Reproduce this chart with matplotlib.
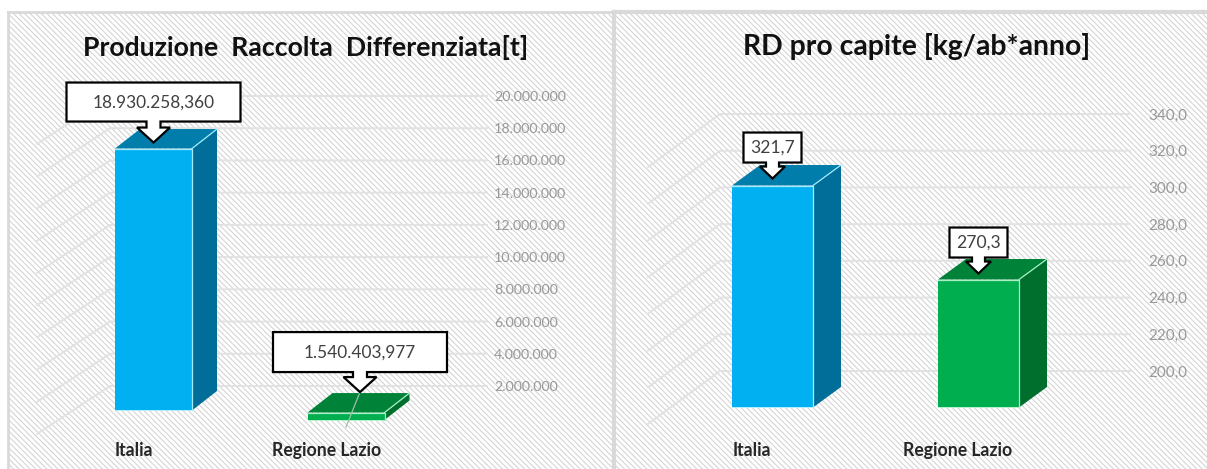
import matplotlib
matplotlib.use("Agg")
import matplotlib.pyplot as plt
from matplotlib.patches import Polygon
from matplotlib.transforms import Affine2D
from matplotlib.ticker import FuncFormatter

plt.rcParams['font.family'] = ['Lato', 'DejaVu Sans']
plt.rcParams['hatch.linewidth'] = 0.75

# data
categories = ["Italia", "Regione Lazio"]
prod_title = "Produzione  Raccolta  Differenziata[t]"
prod_ticks = [2000000, 4000000, 6000000, 8000000, 10000000, 12000000, 14000000, 16000000, 18000000, 20000000]
prod_tops = [17950000, 1560000]
prod_bottoms = [1690000, 1100000]
prod_labels = ["18.930.258,360", "1.540.403,977"]

rd_title = "RD pro capite [kg/ab*anno]"
rd_ticks = [200, 220, 240, 260, 280, 300, 320, 340]
rd_tops = [312.2, 261.0]
rd_bottoms = [191.3, 191.3]
rd_labels = ["321,7", "270,3"]

W, H = 1207, 469
DPI = 100
BLUE = ("#00B0F0", "#007DAB", "#006E98")
GREEN = ("#00AE50", "#008238", "#006F2E")
GRID = "#E2E2E2"
BORDER = "#D9D9D9"


def callout(ax, tip, text, w, h, gap, head_h, head_w, stem_w, fs, leader=False):
    # arrow box drawn in pixels around the tip, tip comes from the bar position
    tx, ty = ax.transData.transform(tip)
    verts = [(0, 0), (head_w/2, head_h), (stem_w/2, head_h), (stem_w/2, gap),
             (w/2, gap), (w/2, gap+h), (-w/2, gap+h), (-w/2, gap),
             (-stem_w/2, gap), (-stem_w/2, head_h), (-head_w/2, head_h)]
    tr = Affine2D().translate(tx, ty)
    ax.add_patch(Polygon(verts, closed=True, facecolor="white", edgecolor="black",
                         linewidth=1.6, transform=tr, zorder=6, joinstyle="miter"))
    ax.text(0, gap+h/2-0.5, text, transform=tr, ha="center", va="center",
            fontsize=fs, color="#404040", zorder=7)
    if leader:
        ax.plot([0, -14], [0, -35], color="#9DBFA8", lw=0.9, transform=tr, zorder=5)


def panel(rect, title, title_x, ticks, tops, bottoms, labels, colors, g, fmt):
    left, right = rect
    ax = fig.add_axes([left/W, 0, (right-left)/W, (H-12)/H])
    ax.set_xlim((left-g["x0"])/g["sx"], (right-g["x0"])/g["sx"])
    ax.set_ylim(g["v0"]+(g["y0"]-H)/g["sy"], g["v0"]+(g["y0"]-12)/g["sy"])

    ax.patch.set_facecolor("white")
    ax.patch.set_edgecolor("#D2D2D2")
    ax.patch.set_hatch("\\\\\\\\\\\\")
    ax.patch.set_linewidth(0)
    for s in ["right", "bottom"]:
        ax.spines[s].set_visible(False)
    for s in ["left", "top"]:
        ax.spines[s].set_color(BORDER)
        ax.spines[s].set_linewidth(g["border"])

    # helpers: pixels to data units
    dx = g["depth_x"]/g["sx"]
    dy = g["depth_y"]/g["sy"]
    half = g["bar_w"]/2/g["sx"]

    # floor/back wall lines
    xa = (g["grid_start"]-g["x0"])/g["sx"]
    xb = (g["knee"]-g["x0"])/g["sx"]
    xc = (g["grid_end"]-g["x0"])/g["sx"]
    for t in ticks:
        ax.plot([xa, xb, xc], [t-g["slant"]/g["sy"], t, t], color=GRID, lw=1.4, zorder=1)

    for i, (top, bot, lab, c) in enumerate(zip(tops, bottoms, labels, colors)):
        l, r = i-half, i+half
        ftop, fbot = top-dy, bot-dy
        ax.add_patch(Polygon([(r, fbot), (r+dx, bot), (r+dx, top), (r, ftop)],
                             facecolor=c[2], edgecolor="none", zorder=3))
        ax.add_patch(Polygon([(l, ftop), (l+dx, top), (r+dx, top), (r, ftop)],
                             facecolor=c[1], edgecolor="none", zorder=3))
        ax.add_patch(Polygon([(l, fbot), (r, fbot), (r, ftop), (l, ftop)],
                             facecolor=c[0], edgecolor="none", zorder=4))
        edge = "#A6ECFF" if c is BLUE else "#A8F0C4"
        ax.plot([l, r, r], [ftop, ftop, fbot], color=edge, lw=0.9, zorder=4.5)
        ax.plot([r, r+dx], [ftop, top], color=edge, lw=0.9, zorder=4.5)
        ax.plot([l, r], [fbot, fbot], color=edge, lw=0.6, zorder=4.5)

        b = g["callouts"][i]
        callout(ax, (i+b["ox"]/g["sx"], ftop+b["oy"]/g["sy"]), lab, b["w"], b["h"], b["gap"],
                b["head_h"], b["head_w"], b["stem_w"], g["label_fs"], b.get("leader", False))

    ax.set_yticks(ticks)
    ax.yaxis.set_major_formatter(FuncFormatter(fmt))
    ax.tick_params(axis="y", left=False, right=False, length=0, labelleft=False, labelright=True,
                   pad=-(right-g["tick_x"])*72/DPI, labelsize=g["tick_fs"], labelcolor="#999999")
    ax.set_xticks([i-g["cat_shift"] for i in range(len(categories))])
    ax.set_xticklabels(categories, fontweight="bold", fontsize=g["cat_fs"], color="#262626")
    ax.tick_params(axis="x", bottom=False, length=0, pad=-(H-g["cat_y"])*72/DPI)

    ax.text((title_x-left)/(right-left), (H-47)/(H-12), title, transform=ax.transAxes,
            ha="center", va="center", fontsize=g["title_fs"], fontweight="bold", color="#111111", zorder=8)
    return ax


def it_int(v, pos):
    return f"{int(v):,}".replace(",", ".")


def it_dec(v, pos):
    return f"{v:.1f}".replace(".", ",")


fig = plt.figure(figsize=(W/DPI, H/DPI), dpi=DPI)
fig.patch.set_facecolor("white")

left_geom = dict(x0=153.5, sx=192.5, y0=418.2, v0=0, sy=16.11/1e6, depth_x=25, depth_y=19.5, bar_w=77,
                 grid_start=37, knee=110, grid_end=487, slant=48, tick_x=494, cat_y=442, cat_shift=0.10,
                 border=2, tick_fs=10.3, cat_fs=12.7, title_fs=19.2, label_fs=12.4,
                 callouts=[dict(ox=0, oy=6, w=174, h=39, gap=21, head_h=15, head_w=33, stem_w=14),
                           dict(ox=14, oy=20.5, w=174, h=40, gap=20, head_h=15, head_w=33, stem_w=14, leader=True)])
right_geom = dict(x0=772.5, sx=206, y0=371, v0=200, sy=1.8357, depth_x=28, depth_y=20.5, bar_w=81,
                  grid_start=648, knee=720, grid_end=1130, slant=53, tick_x=1148, cat_y=442, cat_shift=0.10,
                  border=3, tick_fs=11, cat_fs=12.7, title_fs=20.4, label_fs=12.6,
                  callouts=[dict(ox=0, oy=7, w=58, h=30, gap=16, head_h=12, head_w=25, stem_w=13),
                            dict(ox=0, oy=6, w=58, h=30, gap=16, head_h=12, head_w=25, stem_w=13)])

panel((8, 613), prod_title, 306, prod_ticks, prod_tops, prod_bottoms, prod_labels, [BLUE, GREEN], left_geom, it_int)
panel((614, 1207), rd_title, 917, rd_ticks, rd_tops, rd_bottoms, rd_labels, [BLUE, GREEN], right_geom, it_dec)

fig.savefig("out.png", dpi=DPI)
